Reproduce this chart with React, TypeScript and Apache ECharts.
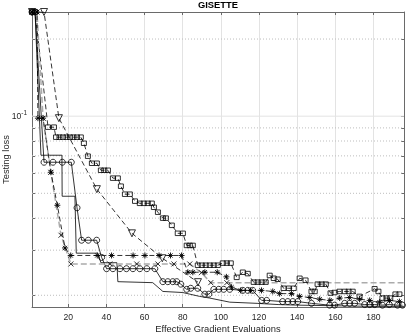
import React, { useEffect, useRef } from 'react';
import * as echarts from 'echarts';

const TITLE = 'GISETTE';
const X_LABEL = 'Effective Gradient Evaluations';
const Y_LABEL = 'Testing loss';
const X_MIN = 1;
const X_MAX = 196;
const Y_MIN = 0.018;
const Y_MAX = 0.255;
const X_TICKS = [20, 40, 60, 80, 100, 120, 140, 160, 180];
const Y_MAJOR = [0.1];
const Y_MINOR = [0.02, 0.03, 0.04, 0.05, 0.06, 0.07, 0.08, 0.09, 0.2];

// plain solid line (no markers)
const plainLine = [
  [1, 0.255], [2.6, 0.255], [5.7, 0.0704], [16.7, 0.0704], [16.8, 0.0487], [23.5, 0.0487],
  [24.2, 0.0292], [35.5, 0.0292], [37.1, 0.0268], [45.5, 0.0268], [46, 0.0226], [64.3, 0.0224],
  [69.6, 0.0207], [80, 0.0205], [88.9, 0.0198], [94.2, 0.0195], [104.7, 0.0188], [119, 0.0186],
  [130, 0.0184], [141, 0.0183], [160, 0.0182], [180, 0.0181], [196, 0.0181],
];

// solid line with circles
const circleLine = [
  [1, 0.255], [2.6, 0.255], [7.3, 0.0661], [12, 0.0661], [16.9, 0.0661], [21.6, 0.0661],
  [24.6, 0.0439], [27, 0.0328], [30.5, 0.0328], [34.9, 0.0328], [37.5, 0.0281], [40.1, 0.0254],
  [43.4, 0.0254], [47.1, 0.0254], [50.5, 0.0254], [53.9, 0.0254], [57.5, 0.0254], [61.2, 0.0254],
  [65.4, 0.0254], [69.6, 0.0226], [72.2, 0.0226], [74.8, 0.0226], [76.9, 0.0226], [79, 0.0221],
  [82.1, 0.0211], [84.2, 0.0213], [87.9, 0.0213], [91.6, 0.0202], [93.7, 0.0202], [96.3, 0.0211],
  [98.9, 0.0211], [101.5, 0.0211], [104.7, 0.0211], [111.5, 0.0209], [114.1, 0.0209], [116.7, 0.0209],
  [121.4, 0.0191], [124, 0.0191], [132.4, 0.0189], [135.1, 0.0189], [137.7, 0.0189], [140.3, 0.0189],
  [147.5, 0.0186], [157, 0.0183], [159.6, 0.0183], [164.9, 0.0186], [167.5, 0.0186], [170.1, 0.0186],
  [175.4, 0.0184], [178, 0.0184], [180.6, 0.0184], [184.7, 0.0183], [188.3, 0.0184], [192.6, 0.0183],
  [195.2, 0.0183],
];

// dashed line with squares
const squareLine = [
  [1, 0.255], [2.6, 0.255], [9.4, 0.0906], [12.5, 0.0906], [13.6, 0.0828], [15.4, 0.0828],
  [17.2, 0.0828], [19.1, 0.0828], [20.9, 0.0828], [22.7, 0.0828], [24.6, 0.0828], [26.6, 0.0828],
  [28.2, 0.0784], [30.3, 0.0698], [32.4, 0.0655], [35, 0.0655], [37.1, 0.0615], [38.9, 0.0615],
  [40.8, 0.0615], [43.4, 0.0573], [46, 0.0573], [47.6, 0.0533], [49.7, 0.0496], [52.3, 0.0496],
  [55, 0.0466], [57.5, 0.0457], [59.6, 0.0457], [61.7, 0.0457], [63.8, 0.0457], [64.9, 0.0441],
  [67, 0.0422], [69.6, 0.04], [71.2, 0.04], [74.3, 0.0375], [77.4, 0.0349], [80.1, 0.0349],
  [82.1, 0.0313], [83.7, 0.0313], [85.3, 0.0313], [87.9, 0.0262], [90, 0.0262], [92.1, 0.0262],
  [94.2, 0.0262], [96.3, 0.0262], [98.4, 0.0262], [101, 0.0267], [103.1, 0.0267], [105.2, 0.0267],
  [108.3, 0.0235], [111.5, 0.0246], [114.1, 0.0243], [117.2, 0.0225], [119.3, 0.0225], [121.4, 0.0225],
  [123.5, 0.0225], [125.6, 0.0239], [127.7, 0.0233], [129.8, 0.0231], [132.9, 0.0213], [135.6, 0.0213],
  [138.2, 0.0213], [141.3, 0.0233], [144.4, 0.0229], [147.5, 0.0207], [149.2, 0.0207], [150.7, 0.0221],
  [152.9, 0.0221], [155, 0.0221], [157.5, 0.0204], [159.6, 0.0205], [162.2, 0.0207], [164.9, 0.0207],
  [167, 0.0207], [169.1, 0.0207], [172.7, 0.0198], [180.6, 0.0212], [182.6, 0.0207], [184.7, 0.0195],
  [186.8, 0.0195], [188.8, 0.0195], [191.5, 0.0202], [193.6, 0.0202],
];

// dashed line with down-triangles
const triangleLine = [
  [1, 0.255], [7.3, 0.255], [15.1, 0.0982], [35, 0.0519], [53.4, 0.0349], [69.3, 0.0279], [88, 0.0225],
];

// grey dashed line with crosses
const crossLine: any[] = [
  [1, 0.255], [3.6, 0.255], [6.8, 0.0982], [10.9, 0.0604], [16.2, 0.0343], [21.4, 0.0265],
  [41.8, 0.0265], [55.9, 0.0265], [67, 0.0265], [75.4, 0.0265], [83.7, 0.0265], [89.8, 0.0245],
  [94.7, 0.0224], [103.1, 0.0224], { value: [196, 0.0224], symbol: 'none' },
];

// dashed line with asterisks
const starLine = [
  [1, 0.255], [3.6, 0.255], [4.1, 0.0982], [6.8, 0.0982], [10.9, 0.0604], [14.3, 0.0449],
  [18.3, 0.0306], [21.3, 0.0286], [35.2, 0.0286], [42.7, 0.0286], [54, 0.0286], [60.2, 0.0286],
  [67.6, 0.0286], [73.6, 0.0286], [79.4, 0.0286], [82.7, 0.0246], [85.3, 0.0246], [91.6, 0.0246],
  [98.1, 0.0246], [102.9, 0.0236], [105.6, 0.0215], [110.4, 0.0209], [115.5, 0.0209], [121.3, 0.0209],
  [127.2, 0.0207], [130.8, 0.0203], [137, 0.0203], [141.3, 0.0198], [146.6, 0.0196], [151.8, 0.0193],
  [157.1, 0.0191], [162.3, 0.0195], [167.5, 0.0196], [172.7, 0.0193], [178, 0.0191], [183.2, 0.0188],
  [188.4, 0.0191], [193.6, 0.0189],
];

const FONT = '"Liberation Sans", Arial, Helvetica, sans-serif';
const AXIS_COLOR = '#6a6a6a';
const TEXT_COLOR = '#262626';

export default function App() {
  const ref = useRef<HTMLDivElement>(null);
  useEffect(() => {
    const chart = echarts.init(ref.current!, null, { renderer: 'svg' });
    const hollow = { color: 'transparent', borderColor: '#000', borderWidth: 0.8 };
    const dashed = { color: '#000', width: 0.8, type: [5, 3] as any };
    const baseX = {
      type: 'value' as const,
      min: X_MIN,
      max: X_MAX,
      splitNumber: 10,
      axisLine: { show: true, lineStyle: { color: AXIS_COLOR, width: 1 } },
      axisTick: { show: true, inside: true, length: 3, customValues: X_TICKS, lineStyle: { color: AXIS_COLOR } },
    };
    const tickedY = (position: string) => ({
      type: 'log' as const,
      logBase: 10,
      min: Y_MIN,
      max: Y_MAX,
      position,
      axisLine: { show: true, lineStyle: { color: AXIS_COLOR, width: 1 } },
      axisTick: { show: true, inside: true, length: 3, customValues: [...Y_MINOR, ...Y_MAJOR], lineStyle: { color: AXIS_COLOR } },
      splitLine: { show: false },
      minorSplitLine: { show: false },
      minorTick: { show: false },
    });
    const gridSeries = (v: number, lineStyle: any) => ({
      type: 'line',
      data: [[X_MIN, v], [X_MAX, v]],
      symbol: 'none',
      silent: true,
      z: 0,
      lineStyle,
    });
    chart.setOption({
      animation: false,
      textStyle: { fontFamily: FONT },
      graphic: [
        {
          type: 'text',
          x: 218,
          y: 4,
          style: {
            text: TITLE,
            fontSize: 9.4,
            fontWeight: 'bold',
            fontFamily: FONT,
            fill: '#000',
            align: 'center',
            verticalAlign: 'middle',
          },
        },
      ],
      grid: { left: 32, right: 3, top: 12, bottom: 26, containLabel: false, outerBoundsMode: 'none' },
      xAxis: [
        {
          ...baseX,
          position: 'bottom',
          axisLabel: {
            customValues: X_TICKS,
            color: TEXT_COLOR,
            fontSize: 8.6,
            fontFamily: FONT,
            margin: 5,
          },
          splitLine: { show: true, lineStyle: { color: '#e3e3e3', width: 1 } },
          name: X_LABEL,
          nameLocation: 'middle',
          nameGap: 16,
          nameMoveOverlap: false,
          nameTextStyle: { color: TEXT_COLOR, fontSize: 9.4, lineHeight: 10, fontFamily: FONT },
        },
        {
          ...baseX,
          position: 'top',
          axisLabel: { show: false },
          splitLine: { show: false },
        },
      ],
      yAxis: [
        {
          ...tickedY('left'),
          axisLabel: {
            customValues: Y_MAJOR,
            color: TEXT_COLOR,
            margin: 5,
            formatter: (v: number) => `{b|10}{s|${Math.round(Math.log10(v))}}`,
            rich: {
              b: { fontSize: 8.6, color: TEXT_COLOR, fontFamily: FONT },
              s: { fontSize: 6.5, color: TEXT_COLOR, fontFamily: FONT, padding: [0, 0, 7, 0] },
            },
          },
          name: Y_LABEL,
          nameLocation: 'middle',
          nameGap: 22,
          nameRotate: 90,
          nameMoveOverlap: false,
          nameTextStyle: { color: TEXT_COLOR, fontSize: 9.4, lineHeight: 10, fontFamily: FONT },
        },
        { ...tickedY('right'), axisLabel: { show: false } },
      ],
      series: [
        ...Y_MINOR.map((v) => gridSeries(v, { type: [1, 2], color: '#bdbdbd', width: 1 })),
        ...Y_MAJOR.map((v) => gridSeries(v, { type: 'solid', color: '#e3e3e3', width: 1 })),
        {
          type: 'line',
          data: plainLine,
          symbol: 'none',
          lineStyle: { color: '#000', width: 0.8 },
        },
        {
          type: 'line',
          data: circleLine,
          symbol: 'circle',
          symbolSize: 6,
          showAllSymbol: true,
          itemStyle: hollow,
          lineStyle: { color: '#000', width: 0.8 },
        },
        {
          type: 'line',
          data: squareLine,
          symbol: 'rect',
          symbolSize: [5, 4.5],
          showAllSymbol: true,
          itemStyle: hollow,
          lineStyle: dashed,
        },
        {
          type: 'line',
          data: triangleLine,
          symbol: 'triangle',
          symbolRotate: 180,
          symbolSize: 7,
          showAllSymbol: true,
          itemStyle: hollow,
          lineStyle: dashed,
        },
        {
          type: 'line',
          data: crossLine,
          symbol: 'path://M0 0L10 10M10 0L0 10',
          symbolSize: 5,
          showAllSymbol: true,
          itemStyle: { color: 'none', borderColor: '#000', borderWidth: 0.8 },
          lineStyle: { color: '#ababab', width: 1.5, type: [6, 3] },
        },
        {
          type: 'line',
          data: starLine,
          symbol: 'path://M5 0L5 10M0 5L10 5M1.5 1.5L8.5 8.5M8.5 1.5L1.5 8.5',
          symbolSize: 6,
          showAllSymbol: true,
          itemStyle: { color: 'none', borderColor: '#000', borderWidth: 0.9 },
          lineStyle: dashed,
        },
      ],
    });
    return () => chart.dispose();
  }, []);
  return <div ref={ref} style={{ position: 'fixed', left: 0, top: 0, width: 407, height: 333 }} />;
}
